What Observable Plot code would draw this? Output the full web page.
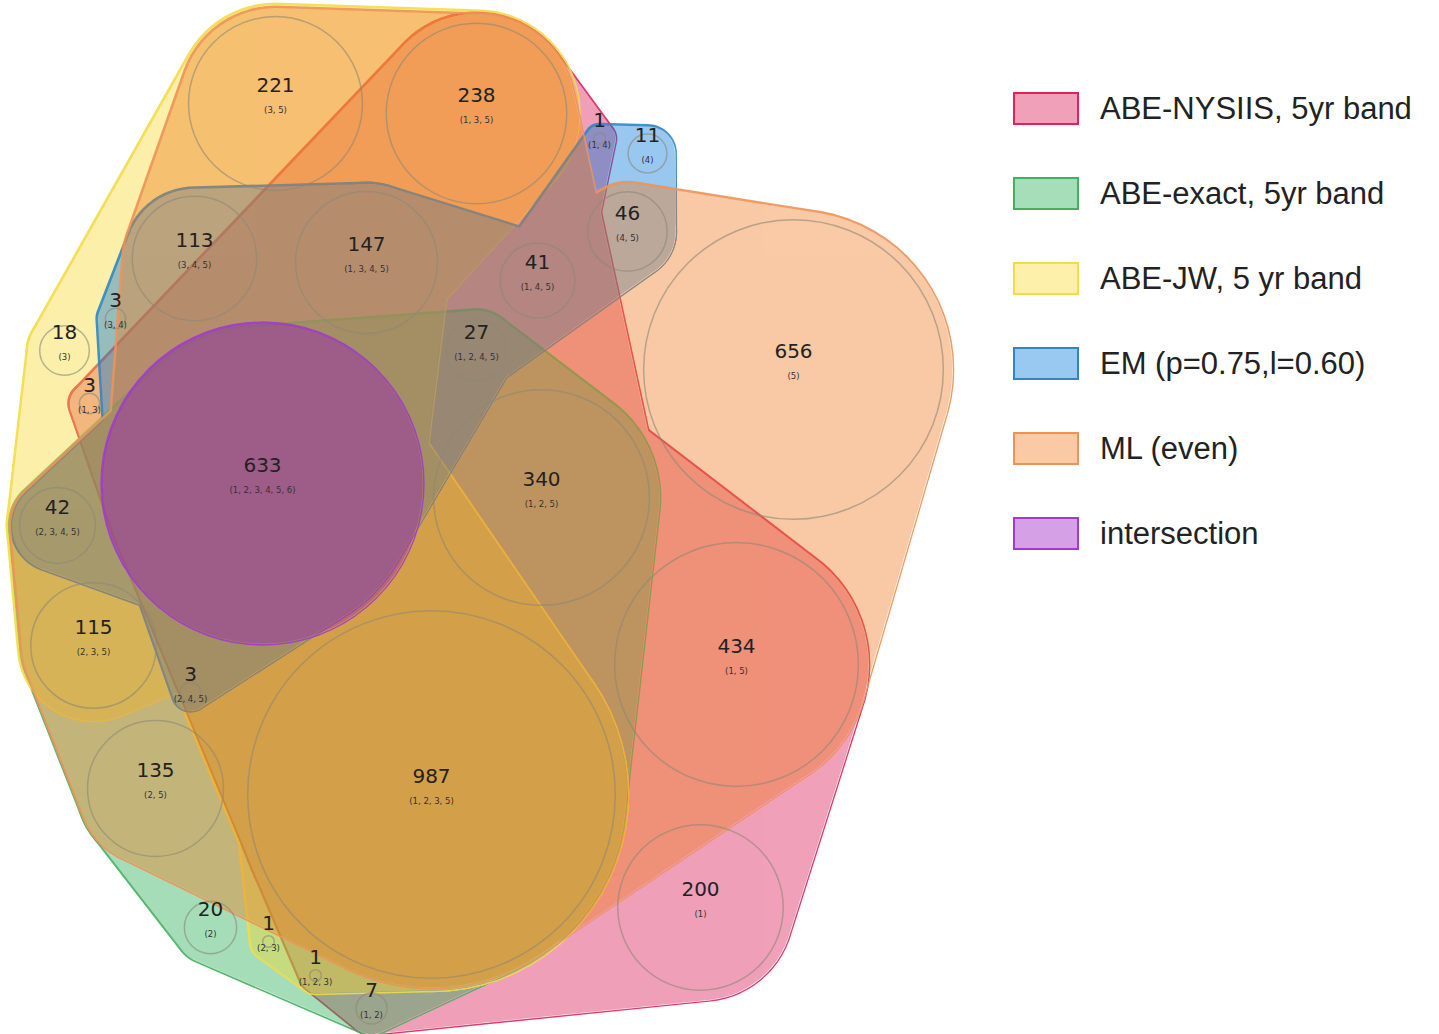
<!DOCTYPE html>
<html>
<head>
<meta charset="utf-8">
<script src="https://cdn.jsdelivr.net/npm/d3@7"></script>
<script src="https://cdn.jsdelivr.net/npm/@observablehq/plot@0.6"></script>
<style>
  body { margin: 0; background: #fff; }
  #wrap { position: relative; width: 1439px; height: 1034px; }
  #chart { position: absolute; left: 0; top: 0; }
  #legend { position: absolute; left: 1013px; top: 92px; font-family: "Liberation Sans", Arial, sans-serif; }
  .item { display: flex; align-items: center; height: 33px; margin-bottom: 52px; }
  .sw { box-sizing: border-box; width: 66px; height: 33px; border: 2.5px solid; margin-right: 21px; }
  .lab { font-size: 31px; color: #222; white-space: nowrap; }
</style>
</head>
<body>
<div id="wrap">
  <div id="chart"></div>
  <div id="legend"></div>
</div>
<script>
// Region labels (which methods matched) and record counts
const regionLabels = ["3,5", "1,3,5", "3,4,5", "1,3,4,5", "3,4", "3", "1,3", "1,4", "4", "4,5",
  "1,4,5", "1,2,4,5", "5", "1,2,3,4,5,6", "1,2,5", "2,3,4,5", "2,3,5", "2,4,5", "1,5", "2,5",
  "1,2,3,5", "1", "2", "2,3", "1,2,3", "1,2"];
const regionCounts = [221, 238, 113, 147, 3, 18, 3, 1, 11, 46,
  41, 27, 656, 633, 340, 42, 115, 3, 434, 135,
  987, 200, 20, 1, 1, 7];

// Diagram layout: circle centres in diagram units
const layoutX = [275, 476, 194, 366, 115, 64, 89, 599, 647, 627,
  537, 476, 793, 262, 541, 57, 93, 190, 736, 155,
  431, 700, 210, 268, 315, 371];
const layoutY = [103, 113, 258, 262, 318, 350, 403, 138, 153, 231,
  280, 350, 369, 483, 497, 525, 645, 692, 664, 788,
  794, 907, 927, 941, 975, 1008];

const setNames = ["ABE-NYSIIS, 5yr band", "ABE-exact, 5yr band", "ABE-JW, 5 yr band",
  "EM (p=0.75,l=0.60)", "ML (even)", "intersection"];
const setFills = ["#d9114d", "#20ac50", "#f7d92a", "#0075d9", "#f07a1e", "#9611c0"];
const setLines = ["#e0245a", "#45b060", "#f2dc4a", "#2f86c4", "#ee9356", "#a03cc8"];
const setPads = [10, 10, 12, 8, 9, 13];
const intersectionKey = "1,2,3,4,5,6";

// each set outline is the union of a few convex pieces around its circles
const setPieces = [
  [["1,3,5", "1,3,4,5", "1,2,3,4,5,6", "1,3", "1,4,5", "1,2,4,5", "1,2,5"],
   ["1,3,5", "1,4", "1,4,5"],
   ["1,2,5", "1,5", "1", "1,2,3,5", "1,2"],
   ["1,2,3,5", "1,2,3", "1,2"],
   ["1,3", "1,2,3,4,5,6", "1,2,3,5"]],
  [["2,3,4,5", "1,2,3,4,5,6", "1,2,4,5", "1,2,5", "1,2,3,5", "2,3,5", "2,5", "2,4,5"],
   ["1,2,3,5", "1,2", "1,2,3", "2,3", "2", "2,5"]],
  [["3,5", "1,3,5", "3,4,5", "1,3,4,5", "3,4", "3"],
   ["1,3,4,5", "1,2,3,4,5,6", "3,4,5", "1,3", "3", "2,3,4,5"],
   ["1,2,3,4,5,6", "2,3,4,5", "2,3,5"],
   ["1,2,3,4,5,6", "1,2,3,5"],
   ["1,2,3,5", "2,3", "1,2,3"]],
  [["3,4,5", "1,3,4,5", "1,2,3,4,5,6", "3,4", "1,2,4,5"],
   ["1,3,4,5", "1,4,5", "1,2,4,5"],
   ["1,4,5", "1,4", "4", "4,5"],
   ["1,2,4,5", "1,4,5", "4,5"],
   ["1,2,4,5", "1,2,3,4,5,6"],
   ["1,2,3,4,5,6", "2,3,4,5"],
   ["1,2,3,4,5,6", "2,4,5"]],
  [["3,5", "1,3,5", "3,4,5", "1,3,4,5", "1,4,5", "1,2,4,5", "1,2,3,4,5,6", "1,2,5"],
   ["1,2,3,4,5,6", "2,3,4,5", "2,3,5", "2,5", "2,4,5"],
   ["4,5", "5", "1,5", "1,2,5", "1,4,5"],
   ["1,2,3,5", "1,5", "1,2,5"],
   ["2,5", "1,2,3,5"]],
  [["1,2,3,4,5,6"]]
];

const W = 980, H = 1034;
const rOptions = {type: "sqrt", domain: [0, 1000], range: [0, 185]};
const rScale = Plot.scale({r: rOptions});

const regions = regionLabels.map((label, i) => ({
  label,
  count: regionCounts[i],
  x: layoutX[i],
  y: layoutY[i],
  rad: rScale.apply(regionCounts[i])
}));
const byLabel = new Map(regions.map(d => [d.label, d]));

// points on the padded circle edges, grouped by piece, for Plot.hull
function hullPoints(pieces, pad) {
  const pts = [];
  pieces.forEach((piece, k) => {
    for (const key of piece) {
      const c = byLabel.get(key);
      const rr = c.rad + pad;
      for (let a = 0; a < 72; a++) {
        const t = a / 72 * 2 * Math.PI;
        pts.push({piece: k, px: c.x + rr * Math.cos(t), py: c.y + rr * Math.sin(t)});
      }
    }
  });
  return pts;
}

const setMarks = setPieces.map((pieces, i) => {
  const pts = hullPoints(pieces, setPads[i]);
  return [
    Plot.hull(pts, {x: "px", y: "py", z: "piece", fill: setFills[i], stroke: "none"}),
    Plot.hull(pts, {x: "px", y: "py", z: "piece", fill: "none", stroke: setLines[i], strokeWidth: 4, strokeLinejoin: "round"})
  ];
});

const fmt = l => `(${l.split(",").join(", ")})`;

const chart = Plot.plot({
  width: W,
  height: H,
  margin: 0,
  x: {domain: [0, W], range: [0, W], axis: null},
  y: {domain: [0, H], range: [0, H], axis: null},
  r: rOptions,
  style: {background: "transparent", overflow: "visible"},
  marks: [
    ...setMarks.slice(0, 5).flat(),
    Plot.dot(regions.filter(d => d.label !== intersectionKey), {x: "x", y: "y", r: "count",
      fill: "none", stroke: "#8c8878", strokeOpacity: 0.6, strokeWidth: 1.5}),
    ...setMarks[5],
    Plot.text(regions, {x: "x", y: "y", text: d => String(d.count), dy: -18, fontSize: 20,
      fontFamily: "DejaVu Sans", fill: "#222"}),
    Plot.text(regions, {x: "x", y: "y", text: d => fmt(d.label), dy: 7, fontSize: 8.5,
      fontFamily: "DejaVu Sans", fill: "#333"})
  ]
});

// group opacity for each set fill, and keep only the outer edge of its outline
const ns = "http://www.w3.org/2000/svg";
const defs = document.createElementNS(ns, "defs");
chart.insertBefore(defs, chart.firstChild);
const hulls = chart.querySelectorAll('g[aria-label="hull"]');
setNames.forEach((name, i) => {
  const fillG = hulls[2 * i], lineG = hulls[2 * i + 1];
  if (!fillG || !lineG) return;
  const mask = document.createElementNS(ns, "mask");
  mask.setAttribute("id", "set-mask-" + i);
  mask.setAttribute("maskUnits", "userSpaceOnUse");
  mask.setAttribute("x", 0); mask.setAttribute("y", 0);
  mask.setAttribute("width", W); mask.setAttribute("height", H);
  const bg = document.createElementNS(ns, "rect");
  bg.setAttribute("width", W); bg.setAttribute("height", H); bg.setAttribute("fill", "white");
  const cut = fillG.cloneNode(true);
  cut.setAttribute("fill", "black");
  cut.querySelectorAll("path").forEach(p => p.setAttribute("fill", "black"));
  mask.append(bg, cut);
  defs.append(mask);
  fillG.setAttribute("opacity", 0.4);
  lineG.setAttribute("mask", `url(#set-mask-${i})`);
  lineG.setAttribute("opacity", 0.9);
});

document.getElementById("chart").appendChild(chart);

// legend
const legend = document.getElementById("legend");
setNames.forEach((name, i) => {
  const item = document.createElement("div");
  item.className = "item";
  const sw = document.createElement("div");
  sw.className = "sw";
  const c = d3.color(setFills[i]);
  c.opacity = 0.4;
  sw.style.background = c.formatRgb();
  sw.style.borderColor = setLines[i];
  const lab = document.createElement("span");
  lab.className = "lab";
  lab.textContent = name;
  item.append(sw, lab);
  legend.appendChild(item);
});
</script>
</body>
</html>
